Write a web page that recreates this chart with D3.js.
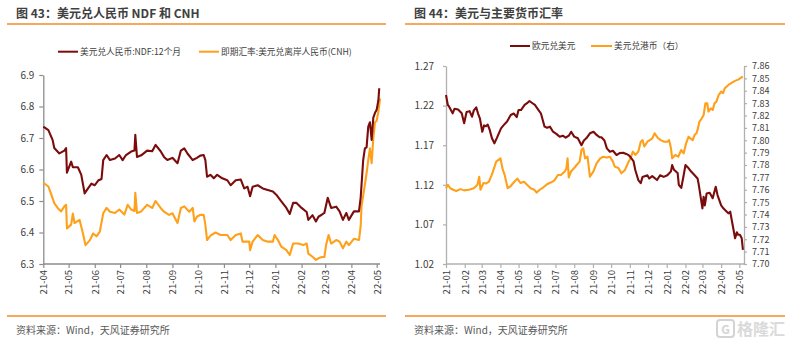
<!DOCTYPE html>
<html><head><meta charset="utf-8">
<script src="https://cdn.jsdelivr.net/npm/d3@7"></script>
<style>
body{margin:0;background:#fff}
svg{display:block}
text{font-family:"Noto Sans CJK SC","Noto Sans",sans-serif}
</style>
</head><body>
<svg id="c" width="791" height="344"></svg>
<script>
// ---------- DATA ----------
const leftTitle = "图 43：美元兑人民币 NDF 和 CNH";
const rightTitle = "图 44：美元与主要货币汇率";
const sourceText = "资料来源：Wind，天风证券研究所";
const leftSeriesNames = ["美元兑人民币:NDF:12个月", "即期汇率:美元兑离岸人民币(CNH)"];
const rightSeriesNames = ["欧元兑美元", "美元兑港币（右）"];

const leftMonths = ["2021-04-01","2021-05-01","2021-06-01","2021-07-01","2021-08-01","2021-09-01","2021-10-01","2021-11-01","2021-12-01","2022-01-01","2022-02-01","2022-03-01","2022-04-01","2022-05-01"];
const rightMonths = ["2021-01-01","2021-02-01","2021-03-01","2021-04-01","2021-05-01","2021-06-01","2021-07-01","2021-08-01","2021-09-01","2021-10-01","2021-11-01","2021-12-01","2022-01-01","2022-02-01","2022-03-01","2022-04-01","2022-05-01"];
const leftYTicks = [6.3,6.4,6.5,6.6,6.7,6.8,6.9];
const eurTicks = [1.02,1.07,1.12,1.17,1.22,1.27];
const hkdTicks = [7.70,7.71,7.72,7.73,7.74,7.75,7.76,7.77,7.78,7.79,7.80,7.81,7.82,7.83,7.84,7.85,7.86];

const ndfDates = ["2021-04-01","2021-04-07","2021-04-12","2021-04-14","2021-04-20","2021-04-26","2021-04-28","2021-04-29","2021-05-04","2021-05-06","2021-05-12","2021-05-16","2021-05-20","2021-05-24","2021-05-28","2021-06-01","2021-06-05","2021-06-09","2021-06-11","2021-06-15","2021-06-19","2021-06-25","2021-06-30","2021-07-04","2021-07-08","2021-07-14","2021-07-18","2021-07-19","2021-07-21","2021-07-26","2021-08-02","2021-08-08","2021-08-12","2021-08-18","2021-08-22","2021-08-26","2021-09-01","2021-09-07","2021-09-11","2021-09-15","2021-09-19","2021-09-25","2021-09-30","2021-10-04","2021-10-08","2021-10-10","2021-10-12","2021-10-16","2021-10-20","2021-10-24","2021-10-30","2021-11-05","2021-11-09","2021-11-15","2021-11-21","2021-11-25","2021-11-29","2021-12-02","2021-12-05","2021-12-11","2021-12-17","2021-12-23","2021-12-29","2022-01-02","2022-01-08","2022-01-14","2022-01-18","2022-01-22","2022-01-26","2022-02-01","2022-02-07","2022-02-09","2022-02-14","2022-02-18","2022-02-21","2022-02-25","2022-02-28","2022-03-04","2022-03-08","2022-03-14","2022-03-18","2022-03-22","2022-03-26","2022-03-29","2022-04-04","2022-04-10","2022-04-12","2022-04-15","2022-04-17","2022-04-19","2022-04-21","2022-04-23","2022-04-25","2022-04-27","2022-04-29","2022-05-01","2022-05-03","2022-05-04"];
const ndfValues = [6.736,6.725,6.694,6.668,6.651,6.660,6.668,6.590,6.625,6.607,6.607,6.583,6.524,6.540,6.555,6.550,6.565,6.570,6.630,6.646,6.630,6.635,6.646,6.630,6.646,6.657,6.660,6.710,6.640,6.645,6.660,6.658,6.678,6.658,6.640,6.630,6.637,6.620,6.660,6.667,6.650,6.630,6.637,6.644,6.646,6.630,6.577,6.583,6.572,6.583,6.572,6.566,6.550,6.566,6.568,6.540,6.545,6.515,6.545,6.550,6.540,6.535,6.530,6.520,6.499,6.478,6.459,6.494,6.494,6.478,6.465,6.440,6.455,6.435,6.450,6.457,6.462,6.510,6.478,6.482,6.467,6.440,6.462,6.440,6.467,6.467,6.510,6.630,6.667,6.670,6.736,6.750,6.694,6.765,6.780,6.790,6.820,6.858];

const cnhDates = ["2021-04-01","2021-04-07","2021-04-10","2021-04-14","2021-04-18","2021-04-22","2021-04-26","2021-04-28","2021-04-29","2021-05-04","2021-05-06","2021-05-08","2021-05-14","2021-05-18","2021-05-21","2021-05-26","2021-05-30","2021-06-03","2021-06-07","2021-06-11","2021-06-15","2021-06-19","2021-06-25","2021-06-30","2021-07-06","2021-07-10","2021-07-14","2021-07-18","2021-07-19","2021-07-21","2021-07-26","2021-08-02","2021-08-08","2021-08-12","2021-08-18","2021-08-22","2021-08-28","2021-09-01","2021-09-07","2021-09-11","2021-09-15","2021-09-21","2021-09-25","2021-09-27","2021-09-30","2021-10-04","2021-10-08","2021-10-10","2021-10-12","2021-10-16","2021-10-22","2021-10-28","2021-11-05","2021-11-09","2021-11-15","2021-11-21","2021-11-23","2021-12-01","2021-12-02","2021-12-05","2021-12-11","2021-12-17","2021-12-23","2021-12-29","2021-12-31","2022-01-04","2022-01-08","2022-01-14","2022-01-18","2022-01-22","2022-01-28","2022-02-03","2022-02-07","2022-02-09","2022-02-14","2022-02-18","2022-02-21","2022-02-25","2022-02-28","2022-03-02","2022-03-05","2022-03-08","2022-03-14","2022-03-18","2022-03-22","2022-03-26","2022-03-29","2022-04-04","2022-04-10","2022-04-12","2022-04-13","2022-04-16","2022-04-19","2022-04-21","2022-04-23","2022-04-25","2022-04-27","2022-04-29","2022-05-01","2022-05-03","2022-05-05"];
const cnhValues = [6.558,6.546,6.524,6.493,6.478,6.467,6.483,6.488,6.413,6.425,6.460,6.430,6.440,6.397,6.360,6.375,6.397,6.388,6.403,6.461,6.478,6.466,6.462,6.473,6.457,6.488,6.473,6.468,6.526,6.462,6.467,6.488,6.478,6.500,6.478,6.466,6.456,6.461,6.430,6.478,6.483,6.466,6.478,6.435,6.450,6.456,6.456,6.425,6.376,6.390,6.400,6.392,6.392,6.376,6.392,6.397,6.371,6.371,6.344,6.371,6.392,6.376,6.371,6.371,6.392,6.376,6.355,6.344,6.329,6.365,6.365,6.360,6.365,6.333,6.323,6.313,6.318,6.322,6.322,6.360,6.392,6.365,6.376,6.371,6.350,6.371,6.360,6.380,6.376,6.420,6.482,6.535,6.588,6.630,6.667,6.620,6.700,6.750,6.755,6.784,6.826];

const eurDates = ["2021-01-01","2021-01-04","2021-01-06","2021-01-12","2021-01-15","2021-01-21","2021-01-27","2021-01-31","2021-02-04","2021-02-09","2021-02-13","2021-02-16","2021-02-20","2021-02-23","2021-02-26","2021-03-02","2021-03-05","2021-03-08","2021-03-11","2021-03-14","2021-03-18","2021-03-22","2021-03-26","2021-04-02","2021-04-06","2021-04-12","2021-04-18","2021-04-23","2021-04-28","2021-05-01","2021-05-05","2021-05-11","2021-05-15","2021-05-19","2021-05-24","2021-05-28","2021-06-03","2021-06-07","2021-06-13","2021-06-17","2021-06-22","2021-06-27","2021-07-03","2021-07-08","2021-07-13","2021-07-18","2021-07-23","2021-07-27","2021-08-01","2021-08-07","2021-08-13","2021-08-17","2021-08-21","2021-08-27","2021-09-02","2021-09-07","2021-09-12","2021-09-15","2021-09-20","2021-09-24","2021-09-29","2021-10-04","2021-10-10","2021-10-15","2021-10-21","2021-10-26","2021-10-30","2021-11-02","2021-11-07","2021-11-10","2021-11-15","2021-11-19","2021-11-22","2021-11-30","2021-12-03","2021-12-08","2021-12-16","2021-12-21","2021-12-27","2022-01-02","2022-01-08","2022-01-10","2022-01-13","2022-01-19","2022-01-21","2022-01-25","2022-01-29","2022-02-01","2022-02-05","2022-02-10","2022-02-15","2022-02-21","2022-02-23","2022-02-26","2022-03-01","2022-03-03","2022-03-05","2022-03-08","2022-03-13","2022-03-18","2022-03-23","2022-03-26","2022-04-01","2022-04-05","2022-04-09","2022-04-13","2022-04-16","2022-04-19","2022-04-22","2022-04-24","2022-04-27","2022-04-29","2022-05-02","2022-05-05","2022-05-07"];
const eurValues = [1.2334,1.2208,1.2190,1.2103,1.2160,1.2150,1.2103,1.1977,1.2120,1.2130,1.2060,1.2140,1.2177,1.2100,1.2040,1.1870,1.1950,1.1940,1.1960,1.1900,1.1787,1.1724,1.1790,1.1913,1.1950,1.2000,1.2081,1.2100,1.2055,1.2144,1.2144,1.2208,1.2230,1.2258,1.2230,1.2208,1.2144,1.2100,1.1934,1.1920,1.1934,1.1870,1.1840,1.1807,1.1820,1.1795,1.1820,1.1870,1.1808,1.1787,1.1700,1.1760,1.1787,1.1850,1.1870,1.1830,1.1800,1.1800,1.1760,1.1660,1.1618,1.1630,1.1576,1.1600,1.1605,1.1590,1.1575,1.1550,1.1500,1.1387,1.1260,1.1220,1.1300,1.1320,1.1280,1.1310,1.1260,1.1320,1.1300,1.1320,1.1370,1.1450,1.1390,1.1350,1.1200,1.1160,1.1320,1.1450,1.1420,1.1370,1.1330,1.1280,1.1200,1.1050,1.0903,1.1050,1.0940,1.1090,1.1100,1.1030,1.1176,1.1070,1.0940,1.0900,1.0870,1.0840,1.0860,1.0734,1.0610,1.0525,1.0600,1.0570,1.0570,1.0525,1.0377];

const hkdDates = ["2021-01-01","2021-01-04","2021-01-08","2021-01-13","2021-01-18","2021-01-25","2021-01-31","2021-02-08","2021-02-16","2021-02-22","2021-02-25","2021-02-27","2021-03-04","2021-03-08","2021-03-13","2021-03-18","2021-03-25","2021-04-01","2021-04-05","2021-04-08","2021-04-13","2021-04-18","2021-04-24","2021-04-29","2021-05-04","2021-05-10","2021-05-15","2021-05-21","2021-05-27","2021-05-31","2021-06-05","2021-06-11","2021-06-18","2021-06-24","2021-06-29","2021-07-05","2021-07-10","2021-07-16","2021-07-19","2021-07-21","2021-07-23","2021-07-27","2021-08-01","2021-08-05","2021-08-10","2021-08-13","2021-08-16","2021-08-19","2021-08-23","2021-08-27","2021-09-02","2021-09-07","2021-09-13","2021-09-18","2021-09-24","2021-09-29","2021-10-04","2021-10-07","2021-10-13","2021-10-18","2021-10-24","2021-10-30","2021-11-02","2021-11-06","2021-11-10","2021-11-15","2021-11-19","2021-11-22","2021-11-25","2021-11-30","2021-12-04","2021-12-08","2021-12-12","2021-12-17","2021-12-22","2021-12-28","2022-01-02","2022-01-05","2022-01-08","2022-01-10","2022-01-15","2022-01-20","2022-01-25","2022-01-29","2022-02-02","2022-02-06","2022-02-09","2022-02-13","2022-02-16","2022-02-19","2022-02-21","2022-02-24","2022-02-28","2022-03-03","2022-03-06","2022-03-09","2022-03-11","2022-03-15","2022-03-18","2022-03-21","2022-03-24","2022-03-28","2022-04-01","2022-04-04","2022-04-07","2022-04-13","2022-04-19","2022-04-24","2022-04-30","2022-05-05","2022-05-07"];
const hkdValues = [7.7612,7.7640,7.7612,7.7600,7.7590,7.7605,7.7595,7.7600,7.7612,7.7640,7.7705,7.7600,7.7655,7.7650,7.7665,7.7724,7.7827,7.7854,7.7760,7.7720,7.7612,7.7630,7.7665,7.7690,7.7655,7.7665,7.7640,7.7612,7.7600,7.7577,7.7600,7.7620,7.7647,7.7660,7.7674,7.7719,7.7719,7.7746,7.7770,7.7854,7.7700,7.7750,7.7775,7.7800,7.7827,7.7921,7.7935,7.7854,7.7867,7.7705,7.7750,7.7814,7.7854,7.7867,7.7860,7.7867,7.7827,7.7787,7.7775,7.7733,7.7760,7.7827,7.7854,7.7908,7.7881,7.7908,7.7988,7.8001,7.7950,7.7988,7.8001,7.8015,7.8056,7.8020,7.8001,7.7988,7.7988,7.8001,7.7935,7.7854,7.7881,7.7867,7.7921,7.7894,7.7975,7.8028,7.8015,7.8001,7.8042,7.8056,7.8083,7.8150,7.8177,7.8204,7.8299,7.8299,7.8231,7.8258,7.8245,7.8298,7.8312,7.8366,7.8393,7.8380,7.8420,7.8447,7.8465,7.8480,7.8492,7.8510,7.8510];

// ---------- STYLE ----------
const C_DARK = "#7b0c0c", C_ORANGE = "#ffa01a", C_RULE = "#f28c28", C_TXT = "#404040";
const TICK_FONT = "'Liberation Sans','Noto Sans',sans-serif";
const parse = d3.timeParse("%Y-%m-%d");
const fmtMonth = d3.timeFormat("%y-%m");
const svg = d3.select("#c");
svg.append("rect").attr("width",791).attr("height",344).attr("fill","#fff");

function panelFrame(x0, x1, tx, title) {
  svg.append("text").attr("x",tx).attr("y",18).attr("font-size",12).attr("font-weight","bold")
    .attr("fill",C_TXT).text(title);
  svg.append("line").attr("x1",x0).attr("x2",x1).attr("y1",24).attr("y2",24)
    .attr("stroke",C_RULE).attr("stroke-width",1.5);
  svg.append("line").attr("x1",x0).attr("x2",x1).attr("y1",316).attr("y2",316)
    .attr("stroke",C_RULE).attr("stroke-width",1.5);
  svg.append("text").attr("x",tx).attr("y",334).attr("font-size",10).attr("fill","#595959").text(sourceText);
}
function legendItem(x, y, w, color, label) {
  svg.append("line").attr("x1",x).attr("x2",x+w).attr("y1",y).attr("y2",y).attr("stroke",color).attr("stroke-width",2);
  svg.append("text").attr("x",x+w+2).attr("y",y+3.2).attr("font-size",8.7).attr("fill",C_TXT).text(label);
}
function styleAxis(g, color, fs) {
  g.select(".domain").attr("stroke",color).attr("stroke-width",1.3);
  g.selectAll(".tick line").attr("stroke",color).attr("stroke-width",1.2);
  g.selectAll(".tick text").attr("fill",C_TXT).attr("font-size",fs).attr("font-family",TICK_FONT);
}

// ---------- LEFT CHART ----------
panelFrame(7, 386, 16, leftTitle);
legendItem(58, 51.7, 20, C_DARK, leftSeriesNames[0]);
legendItem(199, 51.7, 20, C_ORANGE, leftSeriesNames[1]);

const xL = d3.scaleTime().domain([parse("2021-04-01"), parse("2022-05-01")]).range([43.3, 376.7]);
const yL = d3.scaleLinear().domain([6.3, 6.9]).range([264, 75]);

const gxL = svg.append("g").attr("transform","translate(0,264)")
  .call(d3.axisBottom(xL).tickValues(leftMonths.map(parse)).tickFormat(fmtMonth).tickSize(4).tickSizeOuter(0));
gxL.select(".domain").attr("d","M43.3,0H380");
styleAxis(gxL, "#8c8c8c", 9.5);
gxL.selectAll(".tick text").attr("text-anchor","end").attr("transform","rotate(-90)")
  .attr("x",-6).attr("y",0).attr("dy","0.35em");

const gyL = svg.append("g").attr("transform","translate(43.3,0)")
  .call(d3.axisLeft(yL).tickValues(leftYTicks).tickFormat(d3.format(".1f")).tickSize(4).tickSizeOuter(0));
styleAxis(gyL, "#8c8c8c", 10);
gyL.selectAll(".tick text").attr("x",-9);

const lineL = d3.line().x(d => xL(d[0])).y(d => yL(d[1]));
const ndf = ndfDates.map((d,i) => [parse(d), ndfValues[i]]);
const cnh = cnhDates.map((d,i) => [parse(d), cnhValues[i]]);
svg.append("path").datum(cnh).attr("d",lineL).attr("fill","none").attr("stroke",C_ORANGE).attr("stroke-width",2.1).attr("stroke-linejoin","round");
svg.append("path").datum(ndf).attr("d",lineL).attr("fill","none").attr("stroke",C_DARK).attr("stroke-width",2.1).attr("stroke-linejoin","round");

// ---------- RIGHT CHART ----------
panelFrame(405, 785, 414, rightTitle);
legendItem(510, 46, 20, C_DARK, rightSeriesNames[0]);
legendItem(591, 46, 21, C_ORANGE, rightSeriesNames[1]);

const xR = d3.scaleTime().domain([parse("2021-01-01"), parse("2022-05-01")]).range([446, 739.3]);
const yE = d3.scaleLinear().domain([1.02, 1.27]).range([264, 66]);
const yH = d3.scaleLinear().domain([7.70, 7.86]).range([264, 66]);

const gxR = svg.append("g").attr("transform","translate(0,264)")
  .call(d3.axisBottom(xR).tickValues(rightMonths.map(parse)).tickFormat(fmtMonth).tickSize(4).tickSizeOuter(0));
gxR.select(".domain").attr("d","M446,0H744");
styleAxis(gxR, "#b0b0b0", 9.5);
gxR.selectAll(".tick text").attr("text-anchor","end").attr("transform","rotate(-90)")
  .attr("x",-6).attr("y",0).attr("dy","0.35em");

const gyE = svg.append("g").attr("transform","translate(446,0)")
  .call(d3.axisLeft(yE).tickValues(eurTicks).tickFormat(d3.format(".2f")).tickSize(3).tickSizeOuter(0));
styleAxis(gyE, "#b0b0b0", 10);
gyE.selectAll(".tick text").attr("x",-12);

const gyH = svg.append("g").attr("transform","translate(744,0)")
  .call(d3.axisRight(yH).tickValues(hkdTicks).tickFormat(d3.format(".2f")).tickSize(3).tickSizeOuter(0));
styleAxis(gyH, "#b0b0b0", 9);
gyH.selectAll(".tick text").attr("x",8);

const eur = eurDates.map((d,i) => [parse(d), eurValues[i]]);
const hkd = hkdDates.map((d,i) => [parse(d), hkdValues[i]]);
svg.append("path").datum(hkd).attr("d", d3.line().x(d => xR(d[0])).y(d => yH(d[1])))
  .attr("fill","none").attr("stroke",C_ORANGE).attr("stroke-width",2.1).attr("stroke-linejoin","round");
svg.append("path").datum(eur).attr("d", d3.line().x(d => xR(d[0])).y(d => yE(d[1])))
  .attr("fill","none").attr("stroke",C_DARK).attr("stroke-width",2.1).attr("stroke-linejoin","round");

// ---------- WATERMARK ----------
const wm = svg.append("g").attr("opacity",0.9);
wm.append("rect").attr("x",717).attr("y",320).attr("width",17).attr("height",17).attr("rx",3)
  .attr("fill","none").attr("stroke","#d0d0d0").attr("stroke-width",2);
wm.append("text").attr("x",725.5).attr("y",333.5).attr("text-anchor","middle").attr("font-size",12)
  .attr("font-weight","bold").attr("fill","#d0d0d0").text("G");
wm.append("text").attr("x",737).attr("y",335).attr("font-size",16).attr("font-weight","bold")
  .attr("fill","#d6d6d6").text("格隆汇");
</script>
</body></html>
